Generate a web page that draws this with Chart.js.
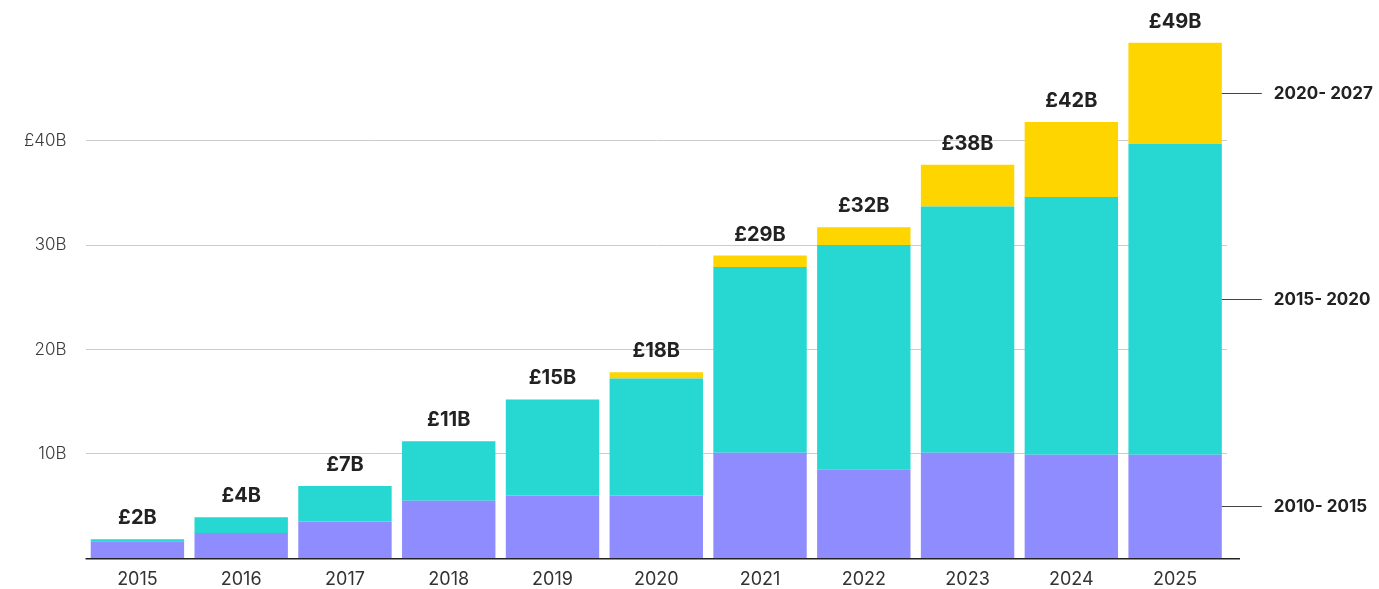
<!DOCTYPE html>
<html>
<head>
<meta charset="utf-8">
<script src="https://cdn.jsdelivr.net/npm/chart.js@4.4.1/dist/chart.umd.min.js"></script>
<style>
  html, body { margin: 0; padding: 0; background: #fff; }
  #wrap { width: 1379px; height: 589px; }
</style>
</head>
<body>
<div id="wrap"><canvas id="grafico"></canvas></div>
<script>
// Datos del gráfico (miles de millones de £)
const years = ['2015', '2016', '2017', '2018', '2019', '2020', '2021', '2022', '2023', '2024', '2025'];
const cohort2010 = [1.6, 2.4, 3.5, 5.5, 6.0, 6.0, 10.1, 8.5, 10.1, 9.9, 9.9];
const cohort2015 = [0.2, 1.5, 3.4, 5.7, 9.2, 11.2, 17.8, 21.5, 23.6, 24.7, 29.8];
const cohort2020 = [0, 0, 0, 0, 0, 0.6, 1.1, 1.7, 4.0, 7.2, 9.7];
const totalLabels = ['£2B', '£4B', '£7B', '£11B', '£15B', '£18B', '£29B', '£32B', '£38B', '£42B', '£49B'];
const seriesNames = ['2010- 2015', '2015- 2020', '2020- 2027'];
const yTicks = [10, 20, 30, 40];
const yTickLabels = { 10: '10B', 20: '20B', 30: '30B', 40: '£40B' };

const fontFamily = "Inter, 'Noto Sans', sans-serif";

// Etiquetas de totales encima de cada barra
const totalesPlugin = {
    id: 'totales',
    afterDatasetsDraw(chart) {
        const ctx = chart.ctx;
        const lastMeta = chart.getDatasetMeta(chart.data.datasets.length - 1);
        const y = chart.scales.y;
        ctx.save();
        ctx.font = "bold 20px " + fontFamily;
        ctx.fillStyle = '#222';
        ctx.textAlign = 'center';
        ctx.textBaseline = 'bottom';
        years.forEach((yr, i) => {
            const total = cohort2010[i] + cohort2015[i] + cohort2020[i];
            const x = lastMeta.data[i].x;
            ctx.fillText(totalLabels[i], x, y.getPixelForValue(total) - 11);
        });
        ctx.restore();
    }
};

// Años bajo el eje, leyenda a la derecha y línea base del eje X
const leyendaPlugin = {
    id: 'leyendaDerecha',
    afterDatasetsDraw(chart) {
        const ctx = chart.ctx;
        const y = chart.scales.y;
        const x = chart.scales.x;
        const area = chart.chartArea;
        const last = years.length - 1;
        const bar = chart.getDatasetMeta(0).data[last];
        const xRight = bar.x + bar.width / 2;
        const series = [cohort2010, cohort2015, cohort2020];
        let base = 0;
        ctx.save();
        // línea base
        ctx.strokeStyle = '#222';
        ctx.lineWidth = 1.5;
        ctx.beginPath();
        ctx.moveTo(area.left, area.bottom + 0.75);
        ctx.lineTo(area.right + 13, area.bottom + 0.75);
        ctx.stroke();

        // etiquetas de años
        ctx.font = "18px " + fontFamily;
        ctx.fillStyle = '#333';
        ctx.textAlign = 'center';
        ctx.textBaseline = 'middle';
        years.forEach((yr, i) => {
            ctx.fillText(yr, x.getPixelForValue(i), area.bottom + 22);
        });

        ctx.font = "bold 17px " + fontFamily;
        ctx.fillStyle = '#222';
        ctx.textAlign = 'left';
        ctx.strokeStyle = '#444';
        ctx.lineWidth = 1;
        series.forEach((s, k) => {
            const mid = base + s[last] / 2;
            base += s[last];
            const py = Math.round(y.getPixelForValue(mid)) + 0.5;
            ctx.beginPath();
            ctx.moveTo(xRight, py);
            ctx.lineTo(xRight + 40, py);
            ctx.stroke();
            ctx.fillText(seriesNames[k], xRight + 52, py);
        });
        ctx.restore();
    }
};

new Chart(document.getElementById('grafico'), {
    type: 'bar',
    data: {
        labels: years,
        datasets: [
            { label: seriesNames[0], data: cohort2010, backgroundColor: '#8F8CFF' },
            { label: seriesNames[1], data: cohort2015, backgroundColor: '#26D7D2' },
            { label: seriesNames[2], data: cohort2020, backgroundColor: '#FFD500' }
        ]
    },
    options: {
        responsive: true,
        maintainAspectRatio: false,
        animation: false,
        layout: { padding: { left: 5, right: 152, top: 0, bottom: 31 } },
        datasets: { bar: { barPercentage: 0.9, categoryPercentage: 1.0 } },
        plugins: {
            legend: { display: false },
            tooltip: { enabled: false }
        },
        scales: {
            x: {
                stacked: true,
                grid: { display: false, drawTicks: false },
                border: { display: false },
                ticks: { display: false }
            },
            y: {
                stacked: true,
                min: 0,
                max: 50.7,
                afterBuildTicks(axis) {
                    axis.ticks = yTicks.map(v => ({ value: v }));
                },
                grid: { color: '#cccccc', lineWidth: 1, drawTicks: false },
                border: { display: false },
                ticks: {
                    color: '#3a3a3a',
                    font: { family: fontFamily, size: 17, weight: '300' },
                    padding: 19,
                    callback: (v) => yTickLabels[v] || ''
                }
            }
        }
    },
    plugins: [totalesPlugin, leyendaPlugin]
});
</script>
</body>
</html>
